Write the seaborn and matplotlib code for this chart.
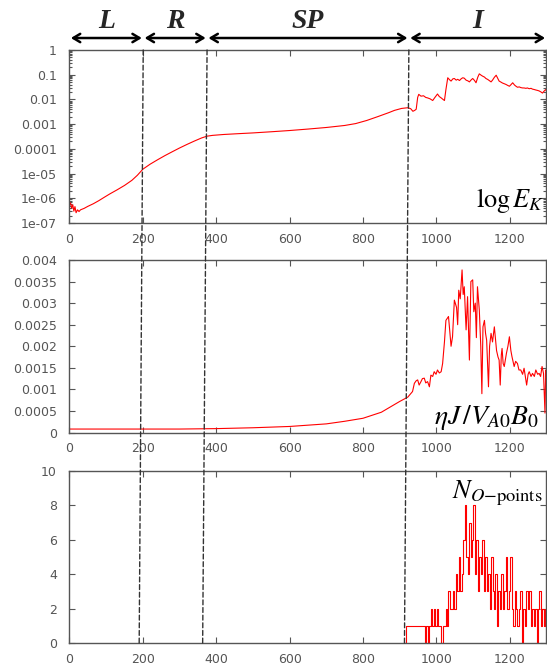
import matplotlib
matplotlib.use("Agg")
import matplotlib.pyplot as plt
import numpy as np
import seaborn as sns
from matplotlib.patches import ConnectionPatch
from matplotlib.ticker import FuncFormatter, LogLocator, MultipleLocator

# phases of the run (times where the dashed lines meet the top / bottom panels)
PHASES = ["L", "R", "SP", "I"]
PHASE_EDGES = [0, 201, 375, 925, 1300]
BOUNDARY_TOP = [201, 375, 925]
BOUNDARY_BOTTOM = [190, 363, 913]

# kinetic energy, log scale
EK_TIME = [0, 3, 6, 9, 12, 15, 18, 22, 26, 30, 40, 50, 65, 80, 95, 110, 130, 150,
           170, 185, 200, 220, 240, 260, 280, 300, 320, 340, 360, 375, 390, 420,
           460, 500, 550, 600, 650, 700, 750, 780, 810, 840, 870, 886, 905, 922,
           930, 936, 941, 945, 949, 952, 958, 965, 971, 976, 983, 990, 996, 1003,
           1008, 1013, 1018, 1022, 1026, 1031, 1036, 1040, 1045, 1049, 1054, 1058,
           1063, 1068, 1072, 1076, 1081, 1086, 1090, 1095, 1099, 1104, 1108, 1113,
           1117, 1122, 1126, 1131, 1135, 1140, 1144, 1149, 1153, 1158, 1163, 1167,
           1171, 1176, 1180, 1185, 1190, 1194, 1199, 1203, 1208, 1213, 1217, 1221,
           1226, 1230, 1235, 1239, 1244, 1248, 1253, 1258, 1262, 1267, 1271, 1276,
           1280, 1285, 1289, 1294, 1298, 1300]
EK_VALUE = [5.0e-7, 6.5e-7, 4.0e-7, 5.5e-7, 3.0e-7, 4.6e-7, 2.6e-7, 3.4e-7, 2.9e-7,
            3.4e-7, 3.9e-7, 4.7e-7, 6.0e-7, 8.0e-7, 1.1e-6, 1.5e-6, 2.2e-6, 3.3e-6,
            5.3e-6, 8.5e-6, 1.5e-5, 2.4e-5, 3.6e-5, 5.3e-5, 7.6e-5, 1.08e-4, 1.5e-4,
            2.05e-4, 2.75e-4, 3.25e-4, 3.5e-4, 3.8e-4, 4.1e-4, 4.4e-4, 4.9e-4, 5.5e-4,
            6.3e-4, 7.3e-4, 8.8e-4, 1.05e-3, 1.4e-3, 2.0e-3, 2.9e-3, 3.6e-3, 4.3e-3,
            4.6e-3, 4.2e-3, 3.3e-3, 3.6e-3, 4.0e-3, 1.2e-2, 1.6e-2, 1.35e-2, 1.4e-2,
            1.2e-2, 1.15e-2, 1.05e-2, 9.0e-3, 1.2e-2, 1.65e-2, 1.3e-2, 1.15e-2, 1.0e-2,
            9.0e-3, 2.5e-2, 7.5e-2, 6.2e-2, 5.5e-2, 6.8e-2, 7.0e-2, 6.0e-2, 6.5e-2,
            5.8e-2, 6.9e-2, 7.5e-2, 7.2e-2, 6.0e-2, 5.6e-2, 5.1e-2, 6.2e-2, 7.0e-2,
            5.8e-2, 4.7e-2, 8.0e-2, 1.08e-1, 9.5e-2, 8.7e-2, 8.0e-2, 7.0e-2, 6.4e-2,
            5.8e-2, 5.1e-2, 6.0e-2, 7.8e-2, 9.5e-2, 7.2e-2, 5.5e-2, 5.0e-2, 4.6e-2,
            4.3e-2, 4.0e-2, 3.7e-2, 3.4e-2, 3.9e-2, 4.7e-2, 3.8e-2, 3.4e-2, 3.1e-2,
            3.2e-2, 3.0e-2, 2.9e-2, 2.9e-2, 2.8e-2, 2.9e-2, 2.7e-2, 2.8e-2, 2.6e-2,
            2.5e-2, 2.4e-2, 2.3e-2, 2.2e-2, 2.0e-2, 1.8e-2, 2.2e-2, 2.5e-2, 2.2e-2]

# current density eta J / V_A0 B_0
J_TIME = [0, 100, 200, 300, 400, 500, 600, 700, 750, 800, 850, 880, 900, 922, 935,
          940, 945, 949, 953, 958, 962, 967, 971, 976, 981, 985, 990, 994, 999,
          1003, 1008, 1013, 1017, 1022, 1026, 1033, 1037, 1040, 1044, 1049, 1055,
          1058, 1061, 1065, 1070, 1073, 1076, 1081, 1085, 1090, 1094, 1099, 1102,
          1106, 1109, 1112, 1117, 1121, 1124, 1127, 1131, 1134, 1137, 1142, 1145,
          1149, 1153, 1158, 1164, 1168, 1171, 1174, 1177, 1179, 1182, 1185, 1191,
          1195, 1199, 1203, 1206, 1212, 1216, 1221, 1225, 1230, 1235, 1239, 1246,
          1250, 1253, 1258, 1262, 1267, 1271, 1276, 1280, 1284, 1288, 1292, 1296,
          1298, 1300]
J_VALUE = [8e-5, 8e-5, 8e-5, 8e-5, 9e-5, 1.1e-4, 1.4e-4, 2.0e-4, 2.6e-4, 3.3e-4,
           4.7e-4, 6.2e-4, 7.2e-4, 8.2e-4, 9.5e-4, 1.14e-3, 1.2e-3, 1.22e-3, 1.1e-3,
           1.18e-3, 1.25e-3, 1.26e-3, 1.15e-3, 1.18e-3, 1.06e-3, 1.33e-3, 1.3e-3,
           1.41e-3, 1.35e-3, 1.45e-3, 1.38e-3, 1.41e-3, 1.6e-3, 2.1e-3, 2.6e-3,
           2.69e-3, 2.3e-3, 2.0e-3, 2.22e-3, 3.07e-3, 2.9e-3, 2.5e-3, 3.3e-3, 3.1e-3,
           3.77e-3, 3.2e-3, 3.38e-3, 2.38e-3, 3.15e-3, 1.68e-3, 3.5e-3, 3.54e-3,
           2.8e-3, 3.0e-3, 2.2e-3, 3.38e-3, 2.84e-3, 2.0e-3, 0.9e-3, 2.45e-3, 2.6e-3,
           2.3e-3, 2.14e-3, 1.06e-3, 2.0e-3, 2.3e-3, 2.1e-3, 2.45e-3, 1.9e-3, 1.75e-3,
           1.68e-3, 1.1e-3, 1.8e-3, 1.95e-3, 1.6e-3, 1.53e-3, 1.84e-3, 2.0e-3,
           2.22e-3, 1.9e-3, 1.76e-3, 1.53e-3, 1.65e-3, 1.6e-3, 1.45e-3, 1.45e-3,
           1.35e-3, 1.49e-3, 1.1e-3, 1.35e-3, 1.41e-3, 1.3e-3, 1.37e-3, 1.3e-3,
           1.45e-3, 1.35e-3, 1.37e-3, 1.3e-3, 1.53e-3, 1.37e-3, 0.45e-3, 1.45e-3,
           1.3e-3]

# number of O-points, sampled every 4 time units from t = 913
N_START = 913
N_STEP = 4
N_VALUE = [0, 1, 1, 1, 1, 1, 1, 1, 1, 1, 1, 1, 1, 1, 0, 1, 0, 1, 2, 1, 2, 1, 2, 1,
           1, 0, 1, 1, 2, 1, 3, 2, 2, 3, 2, 4, 3, 5, 3, 4, 6, 8, 5, 4, 7, 5, 6, 8,
           4, 6, 3, 5, 4, 6, 3, 5, 3, 4, 2, 5, 3, 2, 4, 1, 3, 2, 4, 2, 3, 5, 2, 3,
           5, 2, 1, 3, 2, 1, 2, 3, 0, 2, 1, 3, 2, 3, 1, 2, 1, 2, 0, 2, 3, 1, 2, 1, 2]
N_TIME = N_START + N_STEP * np.arange(len(N_VALUE))

sns.set_style("ticks")
plt.rcParams.update({
    "font.family": ["DejaVu Sans"],
    "mathtext.fontset": "stix",
    "axes.edgecolor": "#555555",
    "axes.linewidth": 1.0,
    "xtick.color": "#555555",
    "ytick.color": "#555555",
})

fig = plt.figure(figsize=(5.47, 6.66), dpi=100)
left, width = 0.127, 0.872
ax_top = fig.add_axes([left, 0.6652, width, 0.2598])
ax_mid = fig.add_axes([left, 0.3506, width, 0.2590])
ax_bot = fig.add_axes([left, 0.0345, width, 0.2583])

line_kw = dict(color="#ff0000", linewidth=0.8, estimator=None, sort=False, legend=False)
sns.lineplot(x=EK_TIME, y=EK_VALUE, ax=ax_top, **line_kw)
sns.lineplot(x=J_TIME, y=J_VALUE, ax=ax_mid, **line_kw)
sns.lineplot(x=N_TIME, y=N_VALUE, ax=ax_bot, drawstyle="steps-post", **line_kw)

fmt = FuncFormatter(lambda v, _: "%g" % v)
for ax in (ax_top, ax_mid, ax_bot):
    ax.set_xlim(0, 1300)
    ax.xaxis.set_major_locator(MultipleLocator(200))
    ax.xaxis.set_major_formatter(fmt)
    ax.tick_params(which="both", direction="in", top=True, right=True,
                   labelsize=9, labelcolor="#555555", width=0.8)
    ax.tick_params(which="major", length=4)
    ax.tick_params(axis="y", pad=9)
    ax.tick_params(axis="x", pad=7)
    ax.set_xlabel("")
    ax.set_ylabel("")

ax_top.set_yscale("log")
ax_top.set_ylim(1e-7, 1)
ax_top.yaxis.set_major_locator(LogLocator(base=10, numticks=10))
ax_top.yaxis.set_minor_locator(LogLocator(base=10, subs=np.arange(2, 10), numticks=10))
ax_top.yaxis.set_major_formatter(fmt)
ax_top.tick_params(which="minor", length=2)

ax_mid.set_ylim(0, 0.004)
ax_mid.yaxis.set_major_locator(MultipleLocator(0.0005))
ax_mid.yaxis.set_major_formatter(fmt)

ax_bot.set_ylim(0, 10)
ax_bot.yaxis.set_major_locator(MultipleLocator(2))
ax_bot.yaxis.set_major_formatter(fmt)

# panel labels
ax_top.text(0.995, 0.09, r"$\log E_K$", transform=ax_top.transAxes,
            ha="right", va="baseline", fontsize=19, color="black")
ax_mid.text(0.983, 0.05, r"$\eta J\,/V_{A0}B_0$", transform=ax_mid.transAxes,
            ha="right", va="baseline", fontsize=20, color="black")
ax_bot.text(0.801, 0.84, r"$N_{O\mathrm{-points}}$", transform=ax_bot.transAxes,
            ha="left", va="baseline", fontsize=19, color="black")

# phase arrows above the top panel
xa = ax_top.get_xaxis_transform()
for name, x0, x1 in zip(PHASES, PHASE_EDGES[:-1], PHASE_EDGES[1:]):
    ax_top.annotate("", xy=(x1, 1.069), xytext=(x0, 1.069), xycoords=xa, textcoords=xa,
                    annotation_clip=False,
                    arrowprops=dict(arrowstyle="<->,head_length=0.5,head_width=0.3",
                                    color="black", lw=1.8, shrinkA=1, shrinkB=1))
    ax_top.text((x0 + x1) / 2, 1.165, name, transform=xa, ha="center", va="center",
                fontsize=20, fontweight="bold", fontstyle="italic",
                family=["Liberation Serif", "DejaVu Serif"], clip_on=False)

# dashed phase boundaries running through all three panels
for xt, xb in zip(BOUNDARY_TOP, BOUNDARY_BOTTOM):
    con = ConnectionPatch(xyA=(xt, 1.0), coordsA=ax_top.get_xaxis_transform(),
                          xyB=(xb, 0.0), coordsB=ax_bot.get_xaxis_transform(),
                          color="#333333", linewidth=1.0, linestyle=(0, (3.5, 2)))
    fig.add_artist(con)

fig.savefig("out.png", dpi=100)
